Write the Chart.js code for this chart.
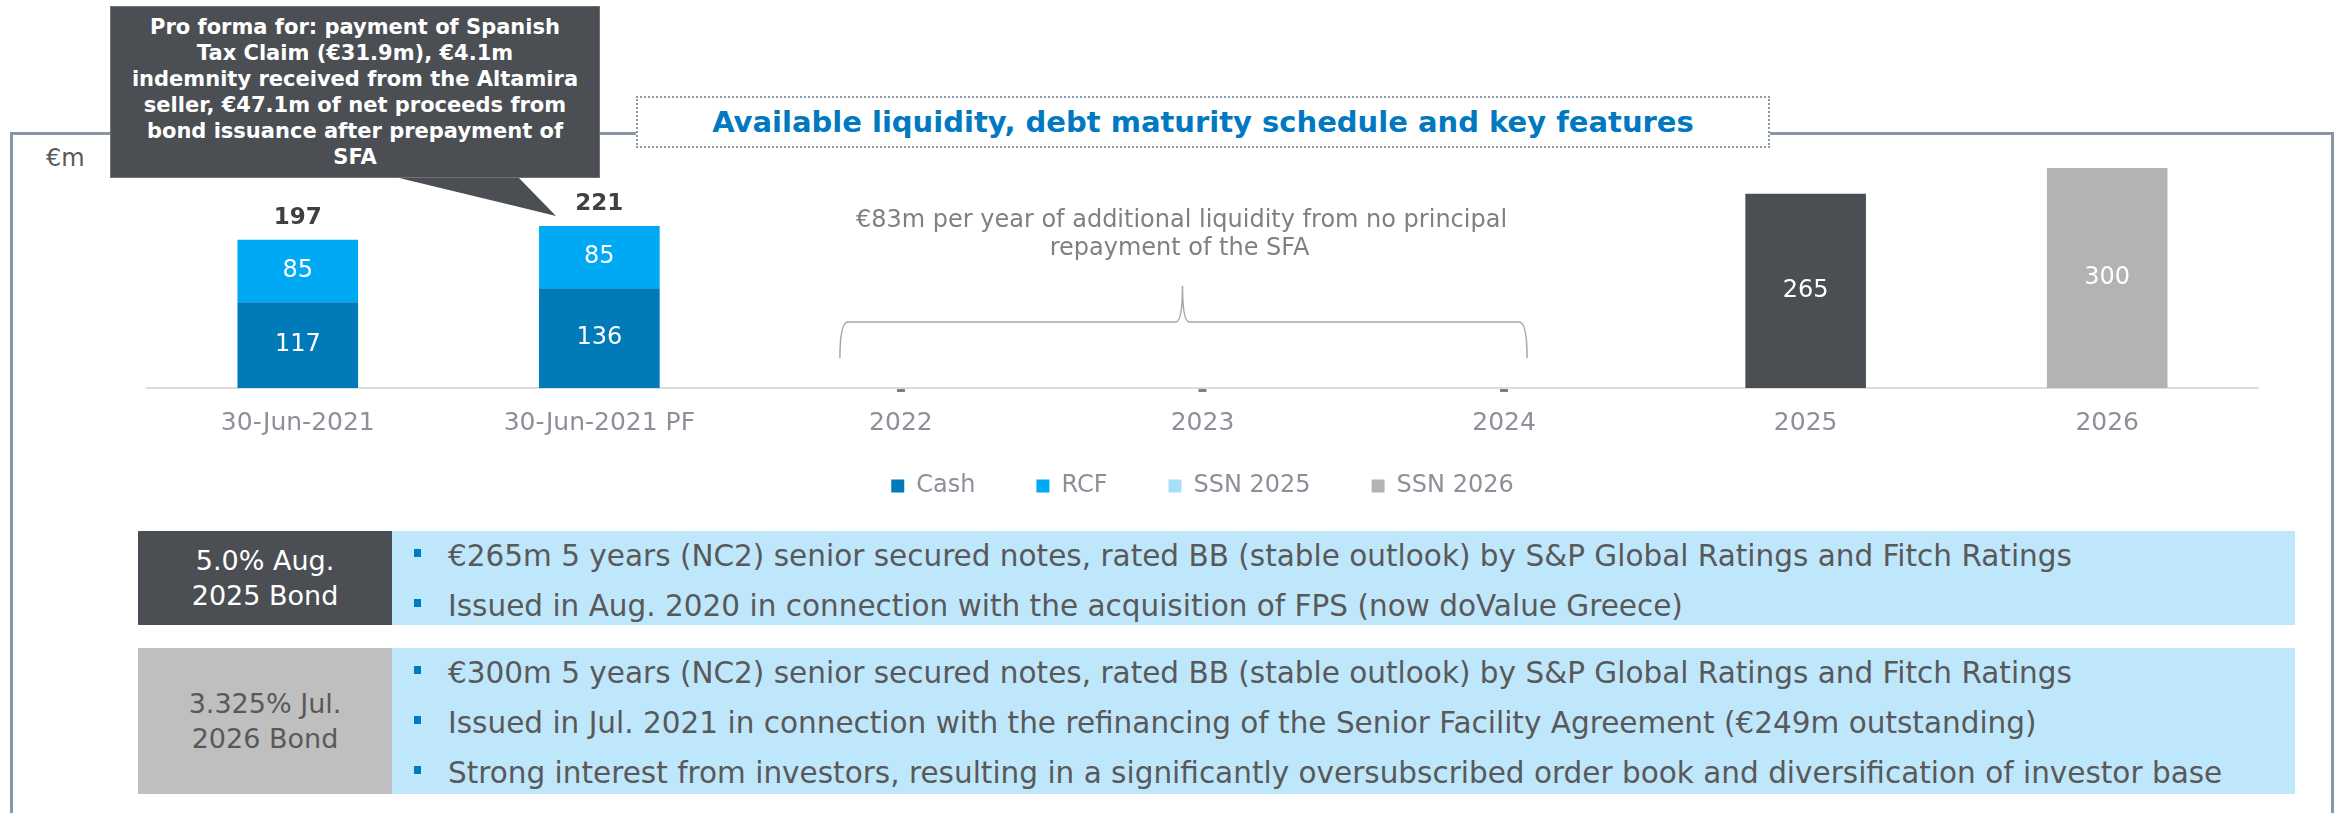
<!DOCTYPE html>
<html>
<head>
<meta charset="utf-8">
<title>Available liquidity, debt maturity schedule and key features</title>
<script src="https://cdn.jsdelivr.net/npm/chart.js@4.4.0/dist/chart.umd.min.js"></script>
<style>
  html, body { margin: 0; padding: 0; background: #fff; }
  body { width: 2343px; height: 813px; position: relative; overflow: hidden; font-family: "DejaVu Sans", Verdana, sans-serif; }
  .frame { position: absolute; left: 10px; top: 132px; width: 2324px; height: 720px; border: 3px solid #8996a8; box-sizing: border-box; }
  .title { position: absolute; left: 636px; top: 96px; width: 1134px; height: 52px; box-sizing: border-box; background: #fff;
           border: 2px dotted #8d99a8; color: #0079c1; font-weight: bold; font-size: 29px; line-height: 48px; text-align: center; }
  .unit { position: absolute; left: 46px; top: 144px; font-size: 24px; color: #595959; }
  .chart-wrap { position: absolute; left: 0; top: 0; width: 2343px; height: 508px; }
  .callout { position: absolute; left: 110px; top: 6px; width: 490px; height: 172px; box-sizing: border-box; background: #4b4f54;
             border: 1px solid #6e7277; color: #fff; font-weight: bold; font-size: 21px; line-height: 26px; text-align: center;
             display: flex; align-items: center; justify-content: center; }
  .pointer { position: absolute; left: 0; top: 0; }
  .bond { position: absolute; left: 138px; width: 2157px; display: flex; }
  .bond .name { width: 254px; display: flex; align-items: center; justify-content: center; text-align: center; font-size: 27px; line-height: 35px; }
  .bond .items { flex: 1; background: #bfe7fc; margin: 0; padding: 0; list-style: none; }
  .bond .items li { position: relative; padding-left: 56px; font-size: 29.5px; line-height: 50px; color: #595959; white-space: nowrap; }
  .bond .items li::before { content: ""; position: absolute; left: 22px; top: 18px; width: 7px; height: 8px; background: #0079c1; }
</style>
</head>
<body>
<div class="frame"></div>
<div class="title">Available liquidity, debt maturity schedule and key features</div>
<div class="unit">€m</div>
<div class="chart-wrap"><canvas id="liquidityChart"></canvas></div>
<svg class="pointer" width="700" height="230"><polygon points="395,177 518,177 556,216" fill="#4b4f54"/></svg>
<div class="callout"><div>Pro forma for: payment of Spanish<br>Tax Claim (€31.9m), €4.1m<br>indemnity received from the Altamira<br>seller, €47.1m of net proceeds from<br>bond issuance after prepayment of<br>SFA</div></div>

<div class="bond" style="top:531px;height:94px;">
  <div class="name" style="background:#4b4f54;color:#fff;">5.0% Aug.<br>2025 Bond</div>
  <ul class="items">
    <li>€265m 5 years (NC2) senior secured notes, rated BB (stable outlook) by S&amp;P Global Ratings and Fitch Ratings</li>
    <li>Issued in Aug. 2020 in connection with the acquisition of FPS (now doValue Greece)</li>
  </ul>
</div>
<div class="bond" style="top:648px;height:146px;">
  <div class="name" style="background:#bfbfbf;color:#595959;">3.325% Jul.<br>2026 Bond</div>
  <ul class="items">
    <li>€300m 5 years (NC2) senior secured notes, rated BB (stable outlook) by S&amp;P Global Ratings and Fitch Ratings</li>
    <li>Issued in Jul. 2021 in connection with the refinancing of the Senior Facility Agreement (€249m outstanding)</li>
    <li>Strong interest from investors, resulting in a significantly oversubscribed order book and diversification of investor base</li>
  </ul>
</div>

<script>
const categories = ['30-Jun-2021', '30-Jun-2021 PF', '2022', '2023', '2024', '2025', '2026'];
const seriesNames = ['Cash', 'RCF', 'SSN 2025', 'SSN 2026'];
const cashValues = [117, 136, 0, 0, 0, null, null];
const rcfValues = [85, 85, 0, 0, 0, null, null];
const ssn2025Values = [null, null, null, null, null, 265, null];
const ssn2026Values = [null, null, null, null, null, null, 300];
// totals as printed on the slide (not always cash + rcf)
const liquidityTotals = [197, 221, null, null, null, null, null];
const barColors = ['#007ab9', '#00a9f4', '#4b4f54', '#b3b3b3'];
const legendColors = ['#007ab9', '#00a9f4', '#a6dff9', '#b3b3b3'];
const bracketNote = ['€83m per year of additional liquidity from no principal', 'repayment of the SFA'];

Chart.defaults.font.family = '"DejaVu Sans", Verdana, sans-serif';

// values inside bars, totals on top of stacks, zero markers
const barLabels = {
    id: 'barLabels',
    afterDatasetsDraw(chart) {
        const ctx = chart.ctx;
        ctx.save();
        ctx.textAlign = 'center';
        ctx.textBaseline = 'middle';
        chart.data.datasets.forEach((ds, di) => {
            chart.getDatasetMeta(di).data.forEach((bar, i) => {
                const v = ds.data[i];
                if (v === 0 && di === 0) {
                    ctx.fillStyle = '#7f7f7f';
                    ctx.fillRect(bar.x - 4, bar.base + 1, 8, 3);
                }
                if (!v) return;
                ctx.font = '24px "DejaVu Sans"';
                ctx.fillStyle = '#fff';
                ctx.fillText(v, bar.x, (bar.y + bar.base) / 2);
            });
        });
        const topMeta = chart.getDatasetMeta(1);
        liquidityTotals.forEach((total, i) => {
            if (!total) return;
            const bar = topMeta.data[i];
            ctx.font = 'bold 23px "DejaVu Sans"';
            ctx.fillStyle = '#404040';
            ctx.fillText(total, bar.x, bar.y - 22);
        });
        ctx.restore();
    }
};

// curly bracket over the years without principal repayment
const bracket = {
    id: 'bracket',
    afterDraw(chart) {
        const x = chart.scales.x;
        const bottom = chart.chartArea.bottom;
        const left = x.getPixelForValue(2) - 61;
        const right = x.getPixelForValue(4) + 23;
        const mid = x.getPixelForValue(3) - 20;
        const yEnd = bottom - 30, yBar = bottom - 66, yTip = bottom - 102;
        const ctx = chart.ctx;
        ctx.save();
        ctx.strokeStyle = '#a6a6a6';
        ctx.lineWidth = 1.5;
        ctx.beginPath();
        ctx.moveTo(left, yEnd);
        ctx.quadraticCurveTo(left, yBar, left + 8, yBar);
        ctx.lineTo(mid - 7, yBar);
        ctx.quadraticCurveTo(mid, yBar, mid, yTip);
        ctx.quadraticCurveTo(mid, yBar, mid + 7, yBar);
        ctx.lineTo(right - 8, yBar);
        ctx.quadraticCurveTo(right, yBar, right, yEnd);
        ctx.stroke();
        ctx.font = '24px "DejaVu Sans"';
        ctx.fillStyle = '#808080';
        ctx.textAlign = 'center';
        ctx.textBaseline = 'middle';
        ctx.fillText(bracketNote[0], mid - 1, bottom - 167);
        ctx.fillText(bracketNote[1], mid - 3, bottom - 139);
        ctx.restore();
    }
};

function makeDataset(label, data, i) {
    return {
        label,
        data,
        backgroundColor: barColors[i],
        borderWidth: 0,
        barPercentage: 0.4,
        categoryPercentage: 1
    };
}

new Chart(document.getElementById('liquidityChart'), {
    type: 'bar',
    data: {
        labels: categories,
        datasets: [
            makeDataset(seriesNames[0], cashValues, 0),
            makeDataset(seriesNames[1], rcfValues, 1),
            makeDataset(seriesNames[2], ssn2025Values, 2),
            makeDataset(seriesNames[3], ssn2026Values, 3)
        ]
    },
    options: {
        responsive: true,
        maintainAspectRatio: false,
        animation: false,
        layout: { padding: { left: 147, right: 85, top: 168, bottom: 0 } },
        scales: {
            x: {
                stacked: true,
                grid: { display: false, drawTicks: false },
                border: { display: true, color: '#dcdcdc', width: 2 },
                ticks: { color: '#8b9099', font: { size: 25 }, padding: 20, maxRotation: 0, autoSkip: false },
                afterFit: (scale) => { scale.height = 49; }
            },
            y: { stacked: true, display: false, min: 0, max: 300 }
        },
        plugins: {
            tooltip: { enabled: false },
            legend: {
                position: 'bottom',
                labels: {
                    color: '#8b9099',
                    font: { size: 24 },
                    boxWidth: 13,
                    boxHeight: 13,
                    padding: 37,
                    // wider gap after each entry, as on the slide
                    generateLabels: () => seriesNames.map((name, i) => ({
                        text: i < seriesNames.length - 1 ? name + '\u2003' : name,
                        fillStyle: legendColors[i],
                        strokeStyle: legendColors[i],
                        fontColor: '#8b9099',
                        lineWidth: 0,
                        datasetIndex: i,
                        hidden: false
                    }))
                }
            }
        }
    },
    plugins: [barLabels, bracket]
});
</script>
</body>
</html>
